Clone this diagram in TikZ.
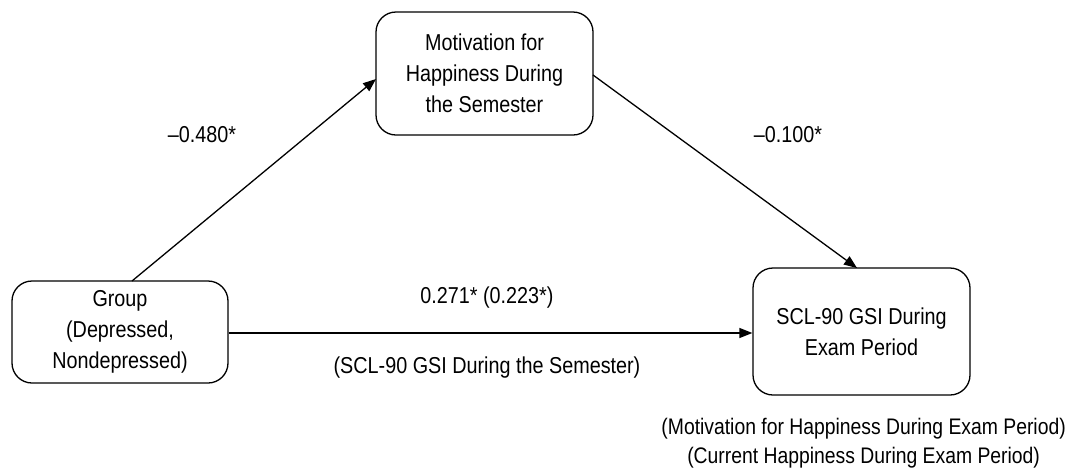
\documentclass[tikz,border=0pt]{standalone}
\usepackage{fontspec}
\setmainfont{Liberation Sans}[FakeStretch=0.86]
\usetikzlibrary{arrows.meta}
\begin{document}
\begin{tikzpicture}[x=1pt,y=-1pt,
  font=\fontsize{23}{31}\selectfont,
  box/.style={draw,line width=1.3pt,rounded corners=20pt,align=center,inner sep=0pt},
  conn/.style={line width=1.3pt,-{Triangle[length=13pt,width=10pt]}},
  lbl/.style={inner sep=0pt,align=center}]
\useasboundingbox (0,0) rectangle (1069,475);
\node[box,minimum width=216pt,minimum height=102pt] (grp) at (120,332) {Group\\(Depressed,\\Nondepressed)};
\node[box,minimum width=217pt,minimum height=123pt] (mot) at (484.5,73.5) {Motivation for\\Happiness During\\the Semester};
\node[box,minimum width=217pt,minimum height=127pt] (scl) at (861.5,331.5) {SCL-90 GSI During\\Exam Period};
\coordinate (a1s) at (132,281);
\coordinate (a1e) at (376,79);
\coordinate (a2s) at (593,75);
\coordinate (a2e) at (857,268);
\draw[conn] (a1s) -- (a1e);
\draw[conn] (a2s) -- (a2e);
\draw[conn] (grp.east |- 0,333) -- (scl.west |- 0,333);
\node[lbl] (l1) at (202,135) {–0.480*};
\node[lbl] (l2) at (788,135) {–0.100*};
\node[lbl] (l3) at (487,298) {0.271* (0.223*)};
\node[lbl] (l4) at (487,368) {(SCL-90 GSI During the Semester)};
\node[lbl,anchor=east,font=\fontsize{22.5}{29}\selectfont] (l5) at (1066,443) {(Motivation for Happiness During Exam Period)\\(Current Happiness During Exam Period)};
\end{tikzpicture}
\end{document}
